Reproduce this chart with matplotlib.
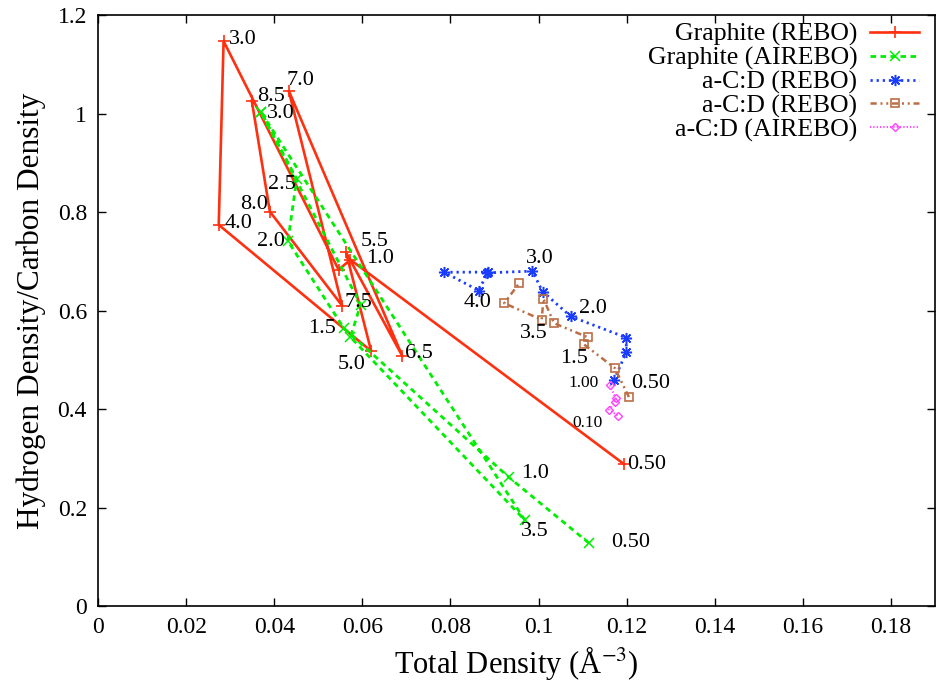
import matplotlib
matplotlib.use("Agg")
import matplotlib.pyplot as plt
from matplotlib.ticker import FuncFormatter

plt.rcParams['font.family'] = ['Liberation Serif', 'DejaVu Serif']
plt.rcParams['mathtext.fontset'] = 'stix'

# Graphite (REBO)
gr_rebo_x = [0.1194, 0.0573, 0.0546, 0.0285, 0.0274, 0.0620, 0.0563, 0.0691, 0.0433, 0.0554, 0.0390, 0.0349]
gr_rebo_y = [0.288, 0.703, 0.683, 1.147, 0.774, 0.5175, 0.718, 0.507, 1.046, 0.610, 0.801, 1.026]
gr_rebo_lab = ["0.50", "1.0", "", "3.0", "4.0", "5.0", "5.5", "6.5", "7.0", "7.5", "8.0", "8.5"]

# Graphite (AIREBO)
gr_air_x = [0.1114, 0.0933, 0.0558, 0.0431, 0.0451, 0.0369, 0.0969, 0.0573, 0.0596, 0.0370]
gr_air_y = [0.128, 0.261, 0.564, 0.741, 0.867, 1.004, 0.174, 0.546, 0.612, 1.003]
gr_air_lab = ["0.50", "1.0", "1.5", "2.0", "2.5", "3.0", "3.5", "", "", ""]

# a-C:D (REBO) set 1
acd1_x = [0.1171, 0.1199, 0.1199, 0.1073, 0.1009, 0.0986, 0.0884, 0.0864, 0.0786, 0.0886]
acd1_y = [0.458, 0.5155, 0.545, 0.588, 0.6385, 0.680, 0.6765, 0.6406, 0.6777, 0.678]
acd1_lab = ["0.50", "", "", "2.0", "", "3.0", "", "4.0", "", ""]

# a-C:D (REBO) set 2
acd2_x = [0.1205, 0.1173, 0.1103, 0.1111, 0.1035, 0.1011, 0.1007, 0.0922, 0.0956]
acd2_y = [0.4243, 0.4831, 0.5312, 0.5459, 0.5743, 0.6238, 0.5812, 0.6148, 0.6554]
acd2_lab = ["", "", "1.5", "", "", "", "3.5", "", ""]

# a-C:D (AIREBO)
acd3_x = [0.1162, 0.1175, 0.1173, 0.1160, 0.1181]
acd3_y = [0.448, 0.4216, 0.4135, 0.3987, 0.3852]
acd3_lab = ["1.00", "", "", "0.10", ""]

# label offsets in pixels (dx, dy, ha)
red_off = {"0.50": (3, 0, 'left'), "1.0": (16, 1, 'left'), "3.0": (5, 2, 'left'),
           "4.0": (6, 1, 'left'), "5.0": (-6, -13, 'right'), "5.5": (15, 11, 'left'),
           "6.5": (3, 3, 'left'), "7.0": (-2, 10, 'left'), "7.5": (2, 3, 'left'),
           "8.0": (-2, 7, 'right'), "8.5": (5, 4, 'left')}
green_off = {"0.50": (22, 0, 'left'), "1.0": (12, 4, 'left'), "1.5": (-8, 0, 'right'),
             "2.0": (-3, 0, 'right'), "2.5": (-1, -5, 'right'), "3.0": (6, -2, 'left'),
             "3.5": (-4, -11, 'left')}
blue_off = {"0.50": (17, -3, 'left'), "2.0": (8, 8, 'left'), "3.0": (-6, 13, 'left'),
            "4.0": (-1, -12, 'center')}
brown_off = {"1.5": (-10, -14, 'center'), "3.5": (-8, -14, 'center')}
mag_off = {"1.00": (-11, 2, 'right'), "0.10": (-6, -13, 'right')}

fig = plt.figure(figsize=(9.37, 6.86), dpi=100)
ax = fig.add_axes([0.1046, 0.1166, 0.8934, 0.8615])

red = '#ff3010'
green = '#00ee00'
blue = '#1a3cff'
brown = '#bb6e45'
magenta = '#ff44ff'

ax.plot(gr_rebo_x, gr_rebo_y, color=red, lw=1.9, ls='-', marker='+', ms=8, mew=1.2,
        label='Graphite (REBO)')
ax.plot(gr_air_x, gr_air_y, color=green, lw=2.0, ls=(0, (2.0, 1.6)), marker='x', ms=7, mew=1.1,
        label='Graphite (AIREBO)')
ax.plot(acd1_x, acd1_y, color=blue, lw=2.0, ls=(0, (0.8, 1.4)), marker=(8, 2, 0), ms=8, mew=1.1,
        label='a-C:D (REBO)')
ax.plot(acd2_x, acd2_y, color=brown, lw=1.8, ls=(0, (2.5, 1.5, 0.8, 1.5, 0.8, 1.5)), marker='s',
        ms=6, mfc='none', mew=1.2, label='a-C:D (REBO)')
ax.plot(acd3_x, acd3_y, color=magenta, lw=1.5, ls=(0, (0.6, 1.0)), marker='D', ms=4.5, mfc='none',
        mew=1.0, label='a-C:D (AIREBO)')

def put_labels(xs, ys, labs, offs, size=16):
    for x, y, t in zip(xs, ys, labs):
        if not t:
            continue
        dx, dy, ha = offs[t]
        ax.annotate(t, (x, y), xytext=(dx, dy), textcoords='offset pixels',
                    ha=ha, va='center', fontsize=size)

put_labels(gr_rebo_x, gr_rebo_y, gr_rebo_lab, red_off)
put_labels(gr_air_x, gr_air_y, gr_air_lab, green_off)
put_labels(acd1_x, acd1_y, acd1_lab, blue_off)
put_labels(acd2_x, acd2_y, acd2_lab, brown_off)
put_labels(acd3_x, acd3_y, acd3_lab, mag_off, size=12.5)

ax.set_xlim(0, 0.19)
ax.set_ylim(0, 1.2)
ax.set_xticks([0, 0.02, 0.04, 0.06, 0.08, 0.1, 0.12, 0.14, 0.16, 0.18])
ax.set_yticks([0, 0.2, 0.4, 0.6, 0.8, 1.0, 1.2])
fmt = FuncFormatter(lambda v, p: '%g' % round(v, 4))
ax.xaxis.set_major_formatter(fmt)
ax.yaxis.set_major_formatter(fmt)
ax.tick_params(direction='in', length=6, width=1, top=True, right=True, labelsize=17, pad=8)
for s in ax.spines.values():
    s.set_linewidth(1.2)

ax.set_xlabel('Total Density (Å$^{-3}$)', fontsize=22, labelpad=4)
ax.set_ylabel('Hydrogen Density/Carbon Density', fontsize=22.5, labelpad=8)

leg = ax.legend(loc='upper right', bbox_to_anchor=(0.99, 1.0), frameon=False,
                markerfirst=False, fontsize=18.5, labelspacing=0.02, handlelength=1.9,
                handletextpad=0.5, borderaxespad=0.2, borderpad=0.1)

fig.savefig('out.png', dpi=100)
